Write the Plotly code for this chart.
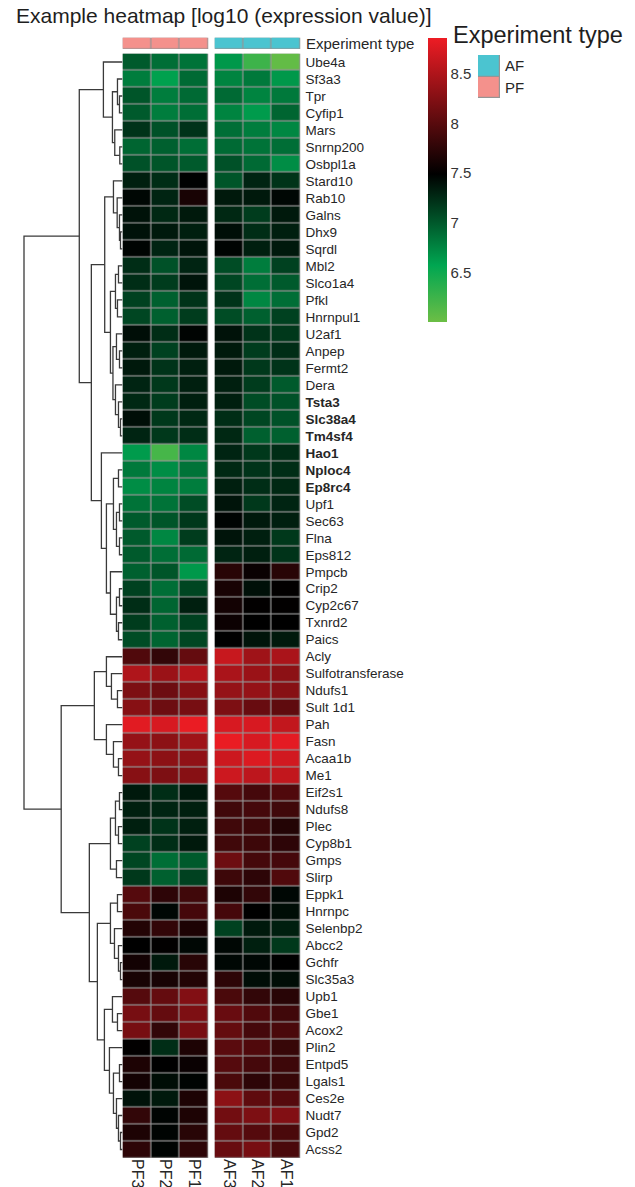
import numpy as np
import plotly.graph_objects as go

W, H = 635, 1187
FONT = "Liberation Sans, Arial, sans-serif"

# ---------------------------------------------------------------- data
genes = ["Ube4a", "Sf3a3", "Tpr", "Cyfip1", "Mars", "Snrnp200", "Osbpl1a", "Stard10", "Rab10", "Galns",
         "Dhx9", "Sqrdl", "Mbl2", "Slco1a4", "Pfkl", "Hnrnpul1", "U2af1", "Anpep", "Fermt2", "Dera",
         "Tsta3", "Slc38a4", "Tm4sf4", "Hao1", "Nploc4", "Ep8rc4", "Upf1", "Sec63", "Flna", "Eps812",
         "Pmpcb", "Crip2", "Cyp2c67", "Txnrd2", "Paics", "Acly", "Sulfotransferase", "Ndufs1", "Sult 1d1", "Pah",
         "Fasn", "Acaa1b", "Me1", "Eif2s1", "Ndufs8", "Plec", "Cyp8b1", "Gmps", "Slirp", "Eppk1",
         "Hnrnpc", "Selenbp2", "Abcc2", "Gchfr", "Slc35a3", "Upb1", "Gbe1", "Acox2", "Plin2", "Entpd5",
         "Lgals1", "Ces2e", "Nudt7", "Gpd2", "Acss2"]
bold_genes = ["Tsta3", "Slc38a4", "Tm4sf4", "Hao1", "Nploc4", "Ep8rc4"]

pf_samples = ["PF3", "PF2", "PF1"]
af_samples = ["AF3", "AF2", "AF1"]
experiment_types = ["AF", "PF"]

# log10 expression, one triple per gene (PF3, PF2, PF1)
pf_values = [
    [6.99, 6.88, 6.85], [6.80, 6.60, 6.90], [7.02, 6.80, 6.90], [6.99, 6.80, 6.88], [7.21, 7.04, 7.21],
    [6.93, 6.96, 6.88], [7.04, 7.02, 6.99], [7.32, 7.24, 7.48], [7.45, 7.29, 7.63], [7.39, 7.27, 7.35],
    [7.39, 7.35, 7.32], [7.47, 7.29, 7.38], [7.24, 7.04, 7.29], [7.24, 7.16, 7.38], [7.13, 6.96, 7.21],
    [7.10, 6.96, 7.16], [7.41, 7.24, 7.47], [7.32, 7.13, 7.35], [7.35, 7.21, 7.32], [7.29, 7.18, 7.32],
    [7.27, 7.16, 7.32], [7.41, 7.18, 7.27], [7.29, 7.18, 7.24], [6.63, 6.20, 6.74], [6.82, 6.71, 6.85],
    [6.71, 6.76, 6.80], [6.85, 6.85, 7.07], [6.99, 7.02, 7.18], [6.99, 6.74, 7.16], [6.99, 6.88, 6.90],
    [6.96, 7.02, 6.65], [7.13, 6.88, 7.10], [7.24, 6.93, 7.32], [7.16, 6.96, 7.13], [7.07, 6.93, 7.10],
    [7.95, 7.78, 8.07], [8.50, 8.38, 8.53], [8.21, 8.12, 8.27], [8.27, 8.12, 8.18], [8.79, 8.73, 8.84],
    [8.35, 8.30, 8.41], [8.35, 8.30, 8.32], [8.27, 8.21, 8.27], [7.35, 7.24, 7.35], [7.32, 7.29, 7.32],
    [7.32, 7.21, 7.32], [7.13, 7.24, 7.35], [7.10, 6.88, 6.99], [7.18, 6.96, 7.13], [7.98, 7.75, 7.86],
    [7.92, 7.45, 7.89], [7.69, 7.78, 7.66], [7.49, 7.50, 7.45], [7.60, 7.35, 7.72], [7.63, 7.63, 7.69],
    [7.98, 8.07, 8.24], [8.18, 8.07, 8.21], [8.18, 7.78, 8.18], [7.50, 7.24, 7.66], [7.66, 7.49, 7.55],
    [7.60, 7.42, 7.47], [7.39, 7.35, 7.66], [7.78, 7.47, 7.66], [7.66, 7.47, 7.72], [7.75, 7.47, 7.75],
]

# log10 expression, one triple per gene (AF3, AF2, AF1)
af_values = [
    [6.65, 6.25, 6.05], [6.76, 6.82, 6.65], [6.90, 6.76, 6.82], [6.76, 6.63, 6.93], [6.88, 6.80, 6.74],
    [6.90, 6.85, 6.88], [7.04, 6.90, 6.71], [7.02, 7.29, 7.21], [7.35, 7.35, 7.45], [7.27, 7.16, 7.35],
    [7.41, 7.24, 7.32], [7.47, 7.32, 7.35], [7.07, 6.80, 7.13], [7.10, 6.88, 6.99], [7.21, 6.74, 6.88],
    [7.07, 6.96, 7.13], [7.39, 7.21, 7.18], [7.35, 7.16, 7.24], [7.35, 7.18, 7.21], [7.32, 7.16, 6.99],
    [7.32, 7.07, 7.04], [7.24, 7.10, 7.04], [7.27, 6.96, 6.96], [7.29, 7.18, 7.24], [7.27, 7.21, 7.24],
    [7.32, 7.24, 7.27], [7.38, 7.18, 7.29], [7.47, 7.35, 7.32], [7.38, 7.32, 7.18], [7.29, 7.32, 7.21],
    [7.72, 7.55, 7.72], [7.63, 7.40, 7.50], [7.60, 7.50, 7.50], [7.56, 7.49, 7.49], [7.49, 7.38, 7.35],
    [8.64, 8.41, 8.47], [8.47, 8.38, 8.30], [8.35, 8.35, 8.27], [8.21, 8.09, 8.04], [8.73, 8.73, 8.61],
    [8.84, 8.73, 8.81], [8.67, 8.76, 8.70], [8.67, 8.58, 8.61], [7.98, 7.89, 7.95], [7.86, 7.89, 7.86],
    [7.86, 7.84, 7.69], [7.86, 7.84, 7.75], [8.12, 7.89, 7.89], [7.84, 7.75, 7.95], [7.66, 7.78, 7.45],
    [7.89, 7.49, 7.42], [7.13, 7.35, 7.32], [7.45, 7.32, 7.18], [7.45, 7.45, 7.49], [7.75, 7.42, 7.42],
    [7.92, 7.78, 7.72], [8.09, 7.95, 7.86], [8.07, 7.89, 7.92], [8.01, 7.95, 7.81], [7.98, 7.89, 7.84],
    [7.92, 7.75, 7.81], [8.30, 8.04, 7.98], [8.15, 8.21, 8.24], [8.07, 7.98, 7.92], [8.09, 8.18, 7.92],
]


# Row clustering: (left, right, merge height); leaves are 1-based row numbers
def m(a, b, h):
    return (a, b, h)


row_tree = m(
    m(
        m(1, m(m(2, m(3, 4, 0.3), 0.5), m(5, m(6, 7, 0.27), 0.77), 1.0), 1.9),
        m(
            m(
                m(8, m(9, m(10, m(11, 12, 0.2), 0.3), 0.53), 0.9),
                m(m(m(13, 14, 0.4), m(15, 16, 0.5), 0.7),
                  m(m(17, m(18, 19, 0.3), 0.6), m(20, m(21, m(22, 23, 0.2), 0.4), 0.7), 0.95), 1.2),
                1.77),
            m(24,
              m(m(m(25, 26, 0.4), m(m(27, 28, 0.3), m(29, 30, 0.3), 0.6), 0.9),
                m(31, m(m(32, 33, 0.3), m(34, 35, 0.4), 0.6), 1.2), 1.6),
              2.1),
            3.1),
        4.3),
    m(
        m(m(36, m(37, m(38, 39, 0.5), 1.1), 1.6), m(40, m(41, m(42, 43, 0.4), 0.9), 1.6), 2.8),
        m(
            m(m(m(44, 45, 0.3), m(46, 47, 0.4), 0.7), m(48, 49, 0.6), 1.2),
            m(
                m(m(50, 51, 0.5), m(52, m(53, m(54, 55, 0.2), 0.4), 0.8), 1.2),
                m(m(56, m(57, 58, 0.5), 1.0),
                  m(59, m(m(60, 61, 0.3), m(62, m(63, m(64, 65, 0.2), 0.4), 0.6), 0.9), 1.3), 1.8),
                2.5),
            3.3),
        6.1),
    9.8)

# ---------------------------------------------------------------- style
Z_MIN, Z_MAX = 6.0, 8.86
GREEN_LIGHT, GREEN, BLACK, RED = "#6CBE45", "#00A651", "#000000", "#ED1C24"


def frac(v):
    return (v - Z_MIN) / (Z_MAX - Z_MIN)


expr_scale = [[0.0, GREEN_LIGHT], [frac(6.57), GREEN], [frac(7.49), BLACK], [1.0, RED]]
AF_COL, PF_COL = "#4BC4D0", "#F4918C"
type_scale = [[0.0, AF_COL], [1.0, PF_COL]]
BORDER = "#959595"
gray_scale = [[0, BORDER], [1, BORDER]]

# pixel layout
HM_TOP, HM_BOT = 53.5, 1158.0
PF_L, PF_R = 122.5, 208.5
AF_L, AF_R = 214.5, 300.5
ANN_TOP, ANN_BOT = 37.5, 49.0
ROOT_X = 24.0


def px(x):
    return x / W


def py(y):
    return 1 - y / H


fig = go.Figure()

rows = list(range(len(genes)))
cols = [0, 1, 2]
pf_z = np.array(pf_values)
af_z = np.array(af_values)

# main heatmap blocks: grey underlay shows through the brick gaps as cell borders
for xa, z, show in (("x", pf_z, False), ("x2", af_z, True)):
    fig.add_trace(go.Heatmap(z=np.zeros_like(z), x=cols, y=rows, xaxis=xa, yaxis="y",
                             colorscale=gray_scale, showscale=False, hoverinfo="skip"))
    fig.add_trace(go.Heatmap(
        z=z, x=cols, y=rows, xaxis=xa, yaxis="y", xgap=1.2, ygap=1.2,
        colorscale=expr_scale, zmin=Z_MIN, zmax=Z_MAX, showscale=show,
        colorbar=dict(x=px(428), xanchor="left", y=py(38), yanchor="top",
                      len=284, lenmode="pixels", thickness=19, thicknessmode="pixels",
                      outlinewidth=0, xpad=0, ypad=0, ticks="", ticklabelposition="outside",
                      tickvals=[6.5, 7, 7.5, 8, 8.5], ticktext=["6.5", "7", "7.5", "8", "8.5"],
                      tickfont=dict(family=FONT, size=15, color="#333333")),
    ))

# experiment type annotation bar
sample_type = ["PF", "PF", "PF", "AF", "AF", "AF"]
type_code = [experiment_types.index(t) for t in sample_type]
for xa, codes in (("x", type_code[:3]), ("x2", type_code[3:])):
    fig.add_trace(go.Heatmap(z=[[0, 0, 0]], x=cols, y=[0], xaxis=xa, yaxis="y3",
                             colorscale=gray_scale, showscale=False, hoverinfo="skip"))
    fig.add_trace(go.Heatmap(z=[codes], x=cols, y=[0], xaxis=xa, yaxis="y3",
                             xgap=1.2, ygap=1.2, colorscale=type_scale, zmin=0, zmax=1,
                             showscale=False, hoverinfo="skip"))

# experiment type legend swatches
legend_z = [[experiment_types.index(t)] for t in experiment_types]
fig.add_trace(go.Heatmap(z=[[0], [0]], x=[0], y=experiment_types, xaxis="x5", yaxis="y5",
                         colorscale=gray_scale, showscale=False, hoverinfo="skip"))
fig.add_trace(go.Heatmap(z=legend_z, x=[0], y=experiment_types, xaxis="x5", yaxis="y5",
                         xgap=1.2, ygap=1.2, colorscale=type_scale, zmin=0, zmax=1,
                         showscale=False, hoverinfo="skip"))

# row dendrogram
seg_x, seg_y = [], []


def walk(node):
    """Return (row position, height) of a node and collect its elbow segments."""
    if not isinstance(node, tuple):
        return node - 1, 0.0
    a, b, h = node
    ya, ha = walk(a)
    yb, hb = walk(b)
    seg_x.extend([ha, h, h, hb, None])
    seg_y.extend([ya, ya, yb, yb, None])
    return (ya + yb) / 2, h


_, root_h = walk(row_tree)
fig.add_trace(go.Scatter(x=seg_x, y=seg_y, xaxis="x4", yaxis="y", mode="lines",
                         line=dict(color="#3a3a3a", width=1.3), hoverinfo="skip",
                         showlegend=False))

tick_text = [f"<b>{g}</b>" if g in bold_genes else g for g in genes]

axis_off = dict(showgrid=False, zeroline=False, showticklabels=False, ticks="", showline=False)
fig.update_layout(
    width=W, height=H, margin=dict(l=0, r=0, t=0, b=0),
    paper_bgcolor="white", plot_bgcolor="white", showlegend=False,
    font=dict(family=FONT, color="#262626"),
    xaxis=dict(domain=[px(PF_L), px(PF_R)], range=[-0.5, 2.5], anchor="y",
               tickvals=cols, ticktext=pf_samples, tickangle=90, ticks="",
               showgrid=False, zeroline=False, tickfont=dict(size=16, color="#262626")),
    xaxis2=dict(domain=[px(AF_L), px(AF_R)], range=[-0.5, 2.5], anchor="y",
                tickvals=cols, ticktext=af_samples, tickangle=90, ticks="",
                showgrid=False, zeroline=False, tickfont=dict(size=16, color="#262626")),
    yaxis=dict(domain=[py(HM_BOT), py(HM_TOP)], range=[len(genes) - 0.5, -0.5], anchor="x2",
               side="right", tickvals=rows, ticktext=tick_text, ticks="", ticklabelstandoff=4,
               showgrid=False, zeroline=False, tickfont=dict(size=13.5, color="#262626")),
    yaxis3=dict(domain=[py(ANN_BOT), py(ANN_TOP)], range=[-0.5, 0.5], anchor="x", **axis_off),
    xaxis4=dict(domain=[0, px(PF_L)], range=[root_h * PF_L / (PF_L - ROOT_X), 0],
                anchor="y", **axis_off),
    xaxis5=dict(domain=[px(478), px(500)], range=[-0.5, 0.5], anchor="y5", **axis_off),
    yaxis5=dict(domain=[py(98), py(55)], autorange="reversed", anchor="x5", side="right",
                ticks="", ticklabelstandoff=4, showgrid=False, zeroline=False,
                tickfont=dict(size=15, color="#262626")),
)

fig.add_annotation(text="Example heatmap [log10 (expression value)]", xref="paper", yref="paper",
                   x=px(14), y=py(15), xanchor="left", yanchor="middle", showarrow=False,
                   font=dict(size=21, color="#1e1e1e"))
fig.add_annotation(text="Experiment type", xref="paper", yref="paper",
                   x=px(451), y=py(35), xanchor="left", yanchor="middle", showarrow=False,
                   font=dict(size=23.5, color="#1e1e1e"))
fig.add_annotation(text="Experiment type", xref="paper", yref="paper",
                   x=px(304), y=py((ANN_TOP + ANN_BOT) / 2), xanchor="left", yanchor="middle",
                   showarrow=False, font=dict(size=15, color="#262626"))

fig.write_html("out.html")
